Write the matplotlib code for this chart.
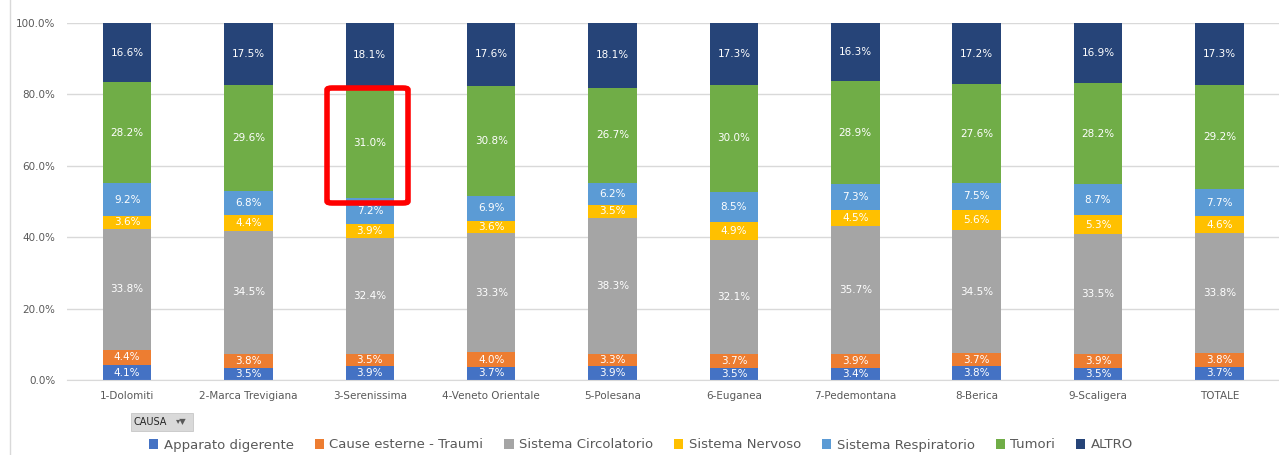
import matplotlib.pyplot as plt
import numpy as np
from matplotlib.patches import FancyBboxPatch, Rectangle

areas = ['1-Dolomiti', '2-Marca Trevigiana', '3-Serenissima', '4-Veneto Orientale',
         '5-Polesana', '6-Euganea', '7-Pedemontana', '8-Berica', '9-Scaligera', 'TOTALE']
causes = ['Apparato digerente', 'Cause esterne - Traumi', 'Sistema Circolatorio',
          'Sistema Nervoso', 'Sistema Respiratorio', 'Tumori', 'ALTRO']
digerente = [4.1, 3.5, 3.9, 3.7, 3.9, 3.5, 3.4, 3.8, 3.5, 3.7]
esterne = [4.4, 3.8, 3.5, 4.0, 3.3, 3.7, 3.9, 3.7, 3.9, 3.8]
circolatorio = [33.8, 34.5, 32.4, 33.3, 38.3, 32.1, 35.7, 34.5, 33.5, 33.8]
nervoso = [3.6, 4.4, 3.9, 3.6, 3.5, 4.9, 4.5, 5.6, 5.3, 4.6]
respiratorio = [9.2, 6.8, 7.2, 6.9, 6.2, 8.5, 7.3, 7.5, 8.7, 7.7]
tumori = [28.2, 29.6, 31.0, 30.8, 26.7, 30.0, 28.9, 27.6, 28.2, 29.2]
altro = [16.6, 17.5, 18.1, 17.6, 18.1, 17.3, 16.3, 17.2, 16.9, 17.3]
colors = ['#4472C4', '#ED7D31', '#A5A5A5', '#FFC000', '#5B9BD5', '#70AD47', '#264478']

series = np.array([digerente, esterne, circolatorio, nervoso, respiratorio, tumori, altro])
shares = series / series.sum(axis=0) * 100

fig = plt.figure(figsize=(12.79, 4.55), dpi=100)
ax = fig.add_axes([66.5 / 1279, 1 - 380 / 455, (1280 - 66.5) / 1279, (380 - 23) / 455])

x = np.arange(len(areas))
bottom = np.zeros(len(areas))
for i in range(len(causes)):
    ax.bar(x, shares[i], 0.4, bottom=bottom, color=colors[i], label=causes[i], zorder=2)
    for j in range(len(areas)):
        ax.text(x[j], bottom[j] + shares[i][j] / 2, '%.1f%%' % series[i][j],
                ha='center', va='center', color='white', fontsize=7.5, zorder=3)
    bottom += shares[i]

ax.set_xlim(-0.5, len(areas) - 0.5)
ax.set_ylim(0, 100)
ax.set_yticks(np.arange(0, 101, 20))
ax.set_yticklabels(['%.1f%%' % v for v in np.arange(0, 101, 20)])
ax.set_xticks(x)
ax.set_xticklabels(areas)
ax.tick_params(length=0, labelsize=7.5, labelcolor='#595959', pad=8)
ax.grid(axis='y', color='#D9D9D9', linewidth=1, zorder=0)
for s in ax.spines.values():
    s.set_visible(False)
ax.spines['bottom'].set_visible(True)
ax.spines['bottom'].set_color('#D9D9D9')

# highlight box around 3-Serenissima / Tumori (figure pixel coords)
fig.add_artist(FancyBboxPatch((327 / 1279, 1 - 203 / 455), 81 / 1279, 115 / 455,
                              boxstyle='round,pad=0,rounding_size=0.004',
                              fill=False, edgecolor='#FF0000', linewidth=4,
                              zorder=5))

# left border line
fig.add_artist(plt.Line2D([10 / 1279, 10 / 1279], [0, 1], color='#D9D9D9', linewidth=1))

# CAUSA filter button
fig.add_artist(Rectangle((131 / 1279, 1 - 431 / 455), 62 / 1279, 18 / 455,
                         facecolor='#D9D9D9', edgecolor='#BFBFBF', linewidth=0.5))
fig.text(133 / 1279, 1 - 422 / 455, 'CAUSA', fontsize=7, va='center', color='#262626')
fig.text(176 / 1279, 1 - 422 / 455, '\u25BE\u25BC', fontsize=6, va='center', color='#595959')

fig.legend(loc='center', bbox_to_anchor=(641 / 1279, 1 - 445 / 455), ncol=7, frameon=False,
           fontsize=9.5, labelcolor='#595959', handlelength=0.7, handleheight=0.7,
           handletextpad=0.4, columnspacing=1.6)

fig.savefig('out.png', dpi=100)
